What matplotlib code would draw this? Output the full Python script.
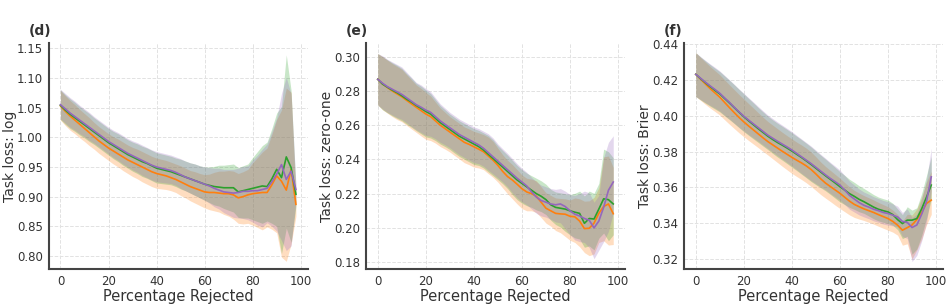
import numpy as np
import matplotlib
matplotlib.use('Agg')
from matplotlib import pyplot as plt

# percentage of samples rejected
pct = np.arange(0, 100, 2)

# ---- (d) log loss ----
log_orange = [1.053, 1.044, 1.036, 1.029, 1.022, 1.015, 1.008, 1.001, 0.994, 0.988,
              0.982, 0.977, 0.972, 0.967, 0.962, 0.958, 0.954, 0.950, 0.946, 0.942,
              0.939, 0.937, 0.935, 0.932, 0.929, 0.925, 0.921, 0.917, 0.914, 0.911,
              0.908, 0.907, 0.907, 0.906, 0.905, 0.905, 0.903, 0.898, 0.900, 0.903,
              0.905, 0.906, 0.907, 0.907, 0.920, 0.935, 0.926, 0.911, 0.946, 0.887]
log_green = [1.054, 1.046, 1.039, 1.033, 1.027, 1.021, 1.015, 1.009, 1.003, 0.997,
             0.991, 0.986, 0.981, 0.976, 0.971, 0.967, 0.963, 0.959, 0.956, 0.952,
             0.948, 0.946, 0.944, 0.942, 0.939, 0.936, 0.933, 0.930, 0.927, 0.924,
             0.921, 0.919, 0.917, 0.916, 0.915, 0.915, 0.915, 0.908, 0.910, 0.912,
             0.914, 0.916, 0.918, 0.917, 0.930, 0.946, 0.932, 0.967, 0.949, 0.904]
log_purple = [1.055, 1.048, 1.041, 1.035, 1.029, 1.023, 1.017, 1.011, 1.005, 0.999,
              0.993, 0.988, 0.983, 0.978, 0.973, 0.969, 0.965, 0.961, 0.957, 0.953,
              0.950, 0.948, 0.946, 0.944, 0.941, 0.937, 0.933, 0.930, 0.927, 0.924,
              0.921, 0.918, 0.914, 0.911, 0.908, 0.907, 0.906, 0.907, 0.909, 0.909,
              0.910, 0.910, 0.912, 0.914, 0.925, 0.938, 0.954, 0.929, 0.943, 0.912]
log_hi = [.026, .026, .026, .026, .025, .025, .025, .024, .024, .024,
          .024, .024, .025, .025, .025, .025, .026, .026, .026, .026,
          .026, .026, .026, .026, .026, .027, .027, .027, .028, .028,
          .029, .031, .034, .037, .038, .039, .040, .041, .042, .043,
          .052, .060, .068, .075, .085, .095, .120, .172, .130, .010]
log_lo = [.024, .024, .024, .023, .023, .022, .022, .021, .021, .021,
          .021, .022, .022, .023, .023, .024, .024, .025, .025, .025,
          .025, .024, .023, .022, .022, .023, .023, .024, .025, .026,
          .027, .029, .031, .032, .035, .038, .041, .043, .046, .048,
          .053, .058, .063, .058, .075, .096, .128, .120, .126, .020]

# ---- (e) zero-one loss ----
zo_orange = [.2868, .2840, .2820, .2800, .2783, .2766, .2745, .2725, .2705, .2685,
             .2665, .2650, .2625, .2600, .2580, .2560, .2540, .2520, .2500, .2488,
             .2474, .2460, .2445, .2420, .2395, .2365, .2330, .2300, .2280, .2255,
             .2229, .2210, .2200, .2185, .2150, .2115, .2100, .2085, .2082, .2080,
             .2068, .2065, .2040, .1996, .1998, .2028, .2085, .2125, .2140, .2083]
zo_green = [.2868, .2840, .2822, .2805, .2790, .2772, .2752, .2735, .2715, .2698,
            .2680, .2665, .2640, .2615, .2595, .2575, .2555, .2535, .2520, .2505,
            .2490, .2475, .2455, .2430, .2405, .2380, .2355, .2330, .2305, .2280,
            .2260, .2240, .2220, .2200, .2185, .2165, .2135, .2120, .2115, .2110,
            .2100, .2092, .2085, .2027, .2055, .2052, .2110, .2170, .2165, .2140]
zo_purple = [.2868, .2845, .2825, .2810, .2795, .2780, .2760, .2740, .2720, .2705,
             .2688, .2675, .2650, .2625, .2605, .2585, .2565, .2545, .2530, .2515,
             .2500, .2485, .2465, .2440, .2415, .2390, .2365, .2340, .2315, .2290,
             .2268, .2245, .2210, .2180, .2160, .2150, .2140, .2135, .2140, .2125,
             .2100, .2080, .2070, .2055, .2045, .2000, .2040, .2120, .2220, .2268]
zo_hi = [.015, .016, .016, .016, .016, .016, .015, .014, .013, .013,
         .0126, .012, .011, .010, .0095, .009, .009, .009, .009, .009,
         .009, .0095, .010, .011, .011, .010, .0097, .0095, .009, .0085,
         .008, .008, .0085, .009, .009, .009, .009, .009, .009, .009,
         .0095, .011, .013, .016, .016, .015, .015, .029, .028, .027]
zo_lo = [.015, .015, .015, .015, .015, .0146, .0146, .0147, .0147, .0148,
         .0148, .014, .013, .0125, .012, .0117, .0118, .0118, .0119, .0119,
         .0119, .011, .0105, .0103, .010, .0098, .0097, .010, .011, .0115,
         .0116, .011, .010, .0095, .009, .0087, .009, .010, .011, .013,
         .014, .015, .015, .014, .016, .018, .017, .020, .024, .018]

# ---- (f) Brier loss ----
br_orange = [.4232, .4205, .4178, .4152, .4128, .4104, .4075, .4046, .4018, .3991,
             .3966, .3943, .3921, .3899, .3877, .3856, .3838, .3820, .3802, .3785,
             .3768, .3752, .3737, .3720, .3700, .3675, .3648, .3624, .3605, .3586,
             .3567, .3545, .3523, .3505, .3492, .3480, .3470, .3460, .3448, .3437,
             .3426, .3410, .3389, .3361, .3375, .3390, .3420, .3460, .3510, .3529]
br_green = [.4232, .4208, .4185, .4163, .4142, .4122, .4097, .4072, .4046, .4020,
            .3995, .3972, .3950, .3928, .3907, .3886, .3868, .3851, .3836, .3820,
            .3803, .3785, .3767, .3748, .3728, .3707, .3686, .3665, .3645, .3625,
            .3604, .3585, .3565, .3550, .3533, .3520, .3505, .3490, .3478, .3470,
            .3463, .3448, .3420, .3398, .3417, .3417, .3426, .3480, .3545, .3613]
br_purple = [.4232, .4210, .4188, .4167, .4147, .4126, .4100, .4075, .4048, .4022,
             .3998, .3976, .3955, .3934, .3913, .3892, .3875, .3858, .3842, .3826,
             .3809, .3790, .3771, .3752, .3733, .3712, .3691, .3670, .3650, .3632,
             .3613, .3585, .3555, .3535, .3515, .3500, .3490, .3478, .3470, .3460,
             .3454, .3445, .3435, .3410, .3405, .3376, .3390, .3450, .3520, .3659]
br_hi = [.0121, .0121, .0122, .0123, .0124, .0125, .0126, .0127, .0128, .0128,
         .0128, .0125, .0122, .0118, .0115, .0112, .0110, .0108, .0106, .0104,
         .0103, .0101, .0100, .0099, .0098, .0096, .0094, .0093, .0090, .0087,
         .0084, .0082, .0080, .0078, .0076, .0074, .0072, .0070, .0068, .0067,
         .0066, .0063, .0060, .0050, .0075, .0056, .0060, .0085, .0120, .0160]
br_lo = [.0124, .0119, .0114, .0109, .0104, .0100, .0097, .0093, .0089, .0086,
         .0083, .0081, .0079, .0077, .0076, .0075, .0078, .0081, .0084, .0087,
         .0090, .0091, .0093, .0094, .0095, .0092, .0088, .0084, .0084, .0085,
         .0085, .0081, .0077, .0073, .0069, .0065, .0065, .0065, .0065, .0065,
         .0065, .0060, .0056, .0084, .0090, .0190, .0170, .0150, .0120, .0080]

panels = [
    ('(d)', 'Task loss: log', [log_orange, log_green, log_purple], log_hi, log_lo,
     [0.80, 0.85, 0.90, 0.95, 1.00, 1.05, 1.10, 1.15], (0.778, 1.159)),
    ('(e)', 'Task loss: zero-one', [zo_orange, zo_green, zo_purple], zo_hi, zo_lo,
     [0.18, 0.20, 0.22, 0.24, 0.26, 0.28, 0.30], (0.176, 0.308)),
    ('(f)', 'Task loss: Brier', [br_orange, br_green, br_purple], br_hi, br_lo,
     [0.32, 0.34, 0.36, 0.38, 0.40, 0.42, 0.44], (0.3144, 0.4407)),
]
colors = ['#ff7f0e', '#2ca02c', '#9467bd']

fig = plt.figure(figsize=(9.47, 3.05), dpi=100)
lefts = [0.0514, 0.3865, 0.7223]
dark = '#333333'

for left, (tag, ylab, series, hi, lo, yticks, ylim) in zip(lefts, panels):
    ax = fig.add_axes([left, 0.118, 0.2735, 0.741])
    hi = np.array(hi)
    lo = np.array(lo)
    for vals, c in zip(series, colors):
        vals = np.array(vals)
        ax.fill_between(pct, vals - lo, vals + hi, color=c, alpha=0.26, linewidth=0)
    for vals, c in zip(series, colors):
        ax.plot(pct, vals, color=c, lw=1.2)
    ax.set_xticks([0, 20, 40, 60, 80, 100])
    ax.set_yticks(yticks)
    ax.set_yticklabels(['%.2f' % t for t in yticks])
    ax.set_ylim(*ylim)
    ax.set_xlim(-4.9, 102.9)
    ax.grid(True, color='#e2e2e2', linestyle='--', linewidth=0.7)
    ax.set_axisbelow(True)
    ax.spines['right'].set_visible(False)
    ax.spines['top'].set_visible(False)
    for s in ['left', 'bottom']:
        ax.spines[s].set_color('#444444')
        ax.spines[s].set_linewidth(1.5)
    ax.tick_params(length=0, labelsize=8.5, labelcolor=dark, pad=4)
    ax.set_xlabel('Percentage Rejected', fontsize=10.5, color=dark, labelpad=1)
    ax.set_ylabel(ylab, fontsize=10, color=dark, labelpad=0)
    ax.annotate(tag, xy=(-0.078, 1.055), xycoords='axes fraction',
                fontsize=10, fontweight='bold', color=dark, va='center', ha='left')

plt.savefig('out.png', dpi=100)
